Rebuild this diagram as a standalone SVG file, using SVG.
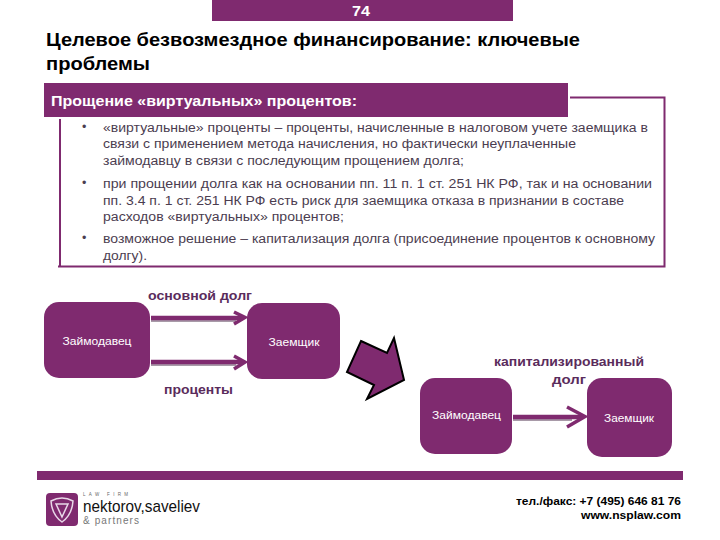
<svg xmlns="http://www.w3.org/2000/svg" width="720" height="540" viewBox="0 0 720 540">
<style>
text{font-family:"Liberation Sans",Arial,sans-serif}
.b{font-size:12.500px;fill:#4b3d50}
.w{font-size:11px;fill:#fff}
.l{font-size:12px;font-weight:bold;fill:#5a2c5c}
.n{fill:#7f2a6f}
.c{stroke:#7f2a6f;stroke-width:4.500;fill:none}
.h{stroke:#7f2a6f;stroke-width:3.500;fill:none}
.s{stroke:#a89aa8;stroke-width:3;fill:none}
</style>
<rect width="720" height="540" fill="#fff"/>
<g id="header">
<rect class="n" x="212" y="0" width="301" height="21"/>
<text x="352" y="15.500" font-size="14" font-weight="bold" fill="#fff" textLength="18" lengthAdjust="spacingAndGlyphs">74</text>
</g>
<g id="title" font-weight="bold" fill="#000">
<text x="46" y="46" font-size="17.500" textLength="534" lengthAdjust="spacingAndGlyphs">Целевое безвозмездное финансирование: ключевые</text>
<text x="46" y="70" font-size="17.500" textLength="104" lengthAdjust="spacingAndGlyphs">проблемы</text>
</g>
<g id="panel">
<path d="M570 97.500H664.500V266.500H58M60 266.500V119" fill="none" stroke="#7f2a6f" stroke-width="2"/>
<rect class="n" x="44" y="83" width="524" height="34"/>
<text x="51" y="106" font-size="14" font-weight="bold" fill="#fff" textLength="306" lengthAdjust="spacingAndGlyphs">Прощение «виртуальных» процентов:</text>
<g class="b">
<text x="82" y="131">•</text>
<text x="103" y="131.500" textLength="545" lengthAdjust="spacingAndGlyphs">«виртуальные» проценты – проценты, начисленные в налоговом учете заемщика в</text>
<text x="103" y="148" textLength="473" lengthAdjust="spacingAndGlyphs">связи с применением метода начисления, но фактически неуплаченные</text>
<text x="103" y="164.500" textLength="361" lengthAdjust="spacingAndGlyphs">займодавцу в связи с последующим прощением долга;</text>
<text x="82" y="187">•</text>
<text x="103" y="188" textLength="549" lengthAdjust="spacingAndGlyphs">при  прощении долга как на основании пп. 11 п. 1 ст. 251 НК РФ, так и на основании</text>
<text x="103" y="205" textLength="521" lengthAdjust="spacingAndGlyphs">пп. 3.4 п. 1 ст. 251 НК РФ есть риск для заемщика отказа в признании в составе</text>
<text x="103" y="221" textLength="241" lengthAdjust="spacingAndGlyphs">расходов «виртуальных» процентов;</text>
<text x="82" y="242">•</text>
<text x="103" y="243" textLength="552" lengthAdjust="spacingAndGlyphs">возможное решение – капитализация долга (присоединение процентов к основному</text>
<text x="103" y="260" textLength="44" lengthAdjust="spacingAndGlyphs">долгу).</text>
</g>
</g>
<g id="connectors">
<path class="s" d="M151 320.500H236"/>
<path class="c" d="M151 318H243"/>
<path class="h" d="M234 312L245 317.500L234 324"/>
<path class="s" d="M151 364.500H236"/>
<path class="c" d="M151 362H243"/>
<path class="h" d="M234 356L245 362L234 369"/>
<path class="s" d="M513 419.500H572"/>
<path class="c" d="M513 417H582"/>
<path class="h" d="M567 407L585 416.500L567 427"/>
<path d="M361 341L387 353L394 338L404 380L367 399L374 385L347 372Z" fill="#7f2a6f" stroke="#000" stroke-width="2"/>
</g>
<g id="lender1"><rect class="n" x="44" y="302" width="106" height="76" rx="15"/><text class="w" x="62.500" y="344.500" textLength="69" lengthAdjust="spacingAndGlyphs">Займодавец</text></g>
<g id="borrower1"><rect class="n" x="247" y="303" width="93" height="76" rx="15"/><text class="w" x="268.500" y="346" textLength="51" lengthAdjust="spacingAndGlyphs">Заемщик</text></g>
<g id="lender2"><rect class="n" x="420" y="378" width="92" height="76" rx="15"/><text class="w" x="432" y="419" textLength="69" lengthAdjust="spacingAndGlyphs">Займодавец</text></g>
<g id="borrower2"><rect class="n" x="587" y="378" width="85" height="79" rx="15"/><text class="w" x="604" y="421.500" textLength="50" lengthAdjust="spacingAndGlyphs">Заемщик</text></g>
<g id="labels">
<text class="l" x="148" y="300" textLength="104" lengthAdjust="spacingAndGlyphs">основной долг</text>
<text class="l" x="164" y="394" textLength="69" lengthAdjust="spacingAndGlyphs">проценты</text>
<text class="l" x="494" y="366" textLength="150" lengthAdjust="spacingAndGlyphs">капитализированный</text>
<text class="l" x="552" y="384" textLength="34" lengthAdjust="spacingAndGlyphs">долг</text>
</g>
<g id="footer">
<rect class="n" x="37" y="471" width="646" height="9"/>
<rect class="n" x="46" y="493" width="32" height="33" rx="4"/>
<path d="M51 501Q62 495 73 501Q72 515 62 522Q52 515 51 501ZM56 504L62 517L68 504Z" fill="none" stroke="#e8d8e8" stroke-width="1.500"/>
<text x="83" y="496" font-size="4.500" fill="#666" textLength="45">LAW FIRM</text>
<text x="83" y="512" font-size="17" fill="#111" textLength="117" lengthAdjust="spacingAndGlyphs">nektorov,saveliev</text>
<text x="83" y="524" font-size="10" fill="#777" textLength="56">&amp; partners</text>
<g font-size="11" font-weight="bold" fill="#000">
<text x="516" y="505" textLength="165" lengthAdjust="spacingAndGlyphs">тел./факс: +7 (495) 646 81 76</text>
<text x="581" y="518.500" textLength="100" lengthAdjust="spacingAndGlyphs">www.nsplaw.com</text>
</g>
</g>
</svg>
